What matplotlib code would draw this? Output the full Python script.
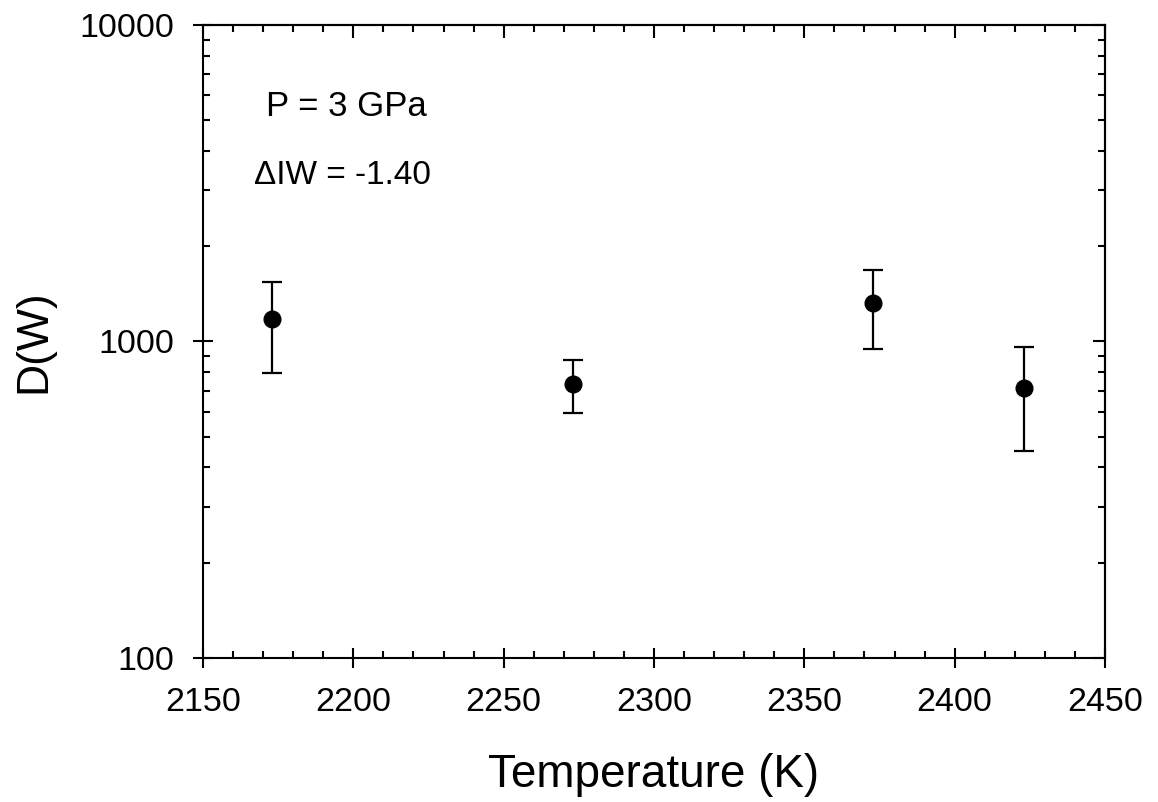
import matplotlib.pyplot as plt
from matplotlib.ticker import MultipleLocator, LogLocator, NullFormatter, FixedLocator

plt.rcParams['font.family'] = ['Liberation Sans', 'DejaVu Sans']

temperature = [2173, 2273, 2373, 2423]
d_w = [1178, 734, 1323, 713]
err_high = [1545, 874, 1683, 961]
err_low = [795, 594, 946, 451]

yerr = [[v - lo for v, lo in zip(d_w, err_low)],
        [hi - v for v, hi in zip(d_w, err_high)]]

fig = plt.figure(figsize=(11.58, 8.02), dpi=100)
ax = fig.add_axes([0.1753, 0.1796, 0.7789, 0.7892])

ax.errorbar(temperature, d_w, yerr=yerr, fmt='o', color='black',
            markersize=12, elinewidth=1.6, capsize=7, capthick=1.6)

ax.set_yscale('log')
ax.set_xlim(2150, 2450)
ax.set_ylim(100, 10000)

ax.xaxis.set_major_locator(MultipleLocator(50))
ax.xaxis.set_minor_locator(MultipleLocator(10))
ax.yaxis.set_major_locator(FixedLocator([100, 1000, 10000]))
ax.yaxis.set_major_formatter(plt.FuncFormatter(lambda v, p: f"{int(round(v))}"))
ax.yaxis.set_minor_locator(LogLocator(base=10, subs=range(2, 10)))
ax.yaxis.set_minor_formatter(NullFormatter())

for side in ax.spines.values():
    side.set_linewidth(1.5)

ax.tick_params(which='major', direction='inout', length=14, width=1.5,
               labelsize=24.5, pad=14)
ax.tick_params(which='minor', direction='in', length=5, width=1.5)

# top and right ticks point inward only
top = ax.secondary_xaxis('top')
top.xaxis.set_major_locator(MultipleLocator(50))
top.xaxis.set_minor_locator(MultipleLocator(10))
top.tick_params(which='major', direction='in', length=9, width=1.5, labeltop=False)
top.tick_params(which='minor', direction='in', length=5, width=1.5)
top.spines['top'].set_linewidth(1.5)

right = ax.secondary_yaxis('right')
right.yaxis.set_major_locator(FixedLocator([100, 1000, 10000]))
right.yaxis.set_minor_locator(LogLocator(base=10, subs=range(2, 10)))
right.yaxis.set_minor_formatter(NullFormatter())
right.tick_params(which='major', direction='in', length=9, width=1.5, labelright=False)
right.tick_params(which='minor', direction='in', length=5, width=1.5)
right.spines['right'].set_linewidth(1.5)

ax.set_xlabel('Temperature (K)', fontsize=33, labelpad=25)
ax.set_ylabel('D(W)', fontsize=32, labelpad=18)

ax.text(0.07, 0.872, 'P = 3 GPa', transform=ax.transAxes, fontsize=25,
        va='center', ha='left')
ax.text(0.057, 0.762, '\u0394IW = -1.40', transform=ax.transAxes, fontsize=24,
        va='center', ha='left')

fig.savefig('out.png', dpi=100)
